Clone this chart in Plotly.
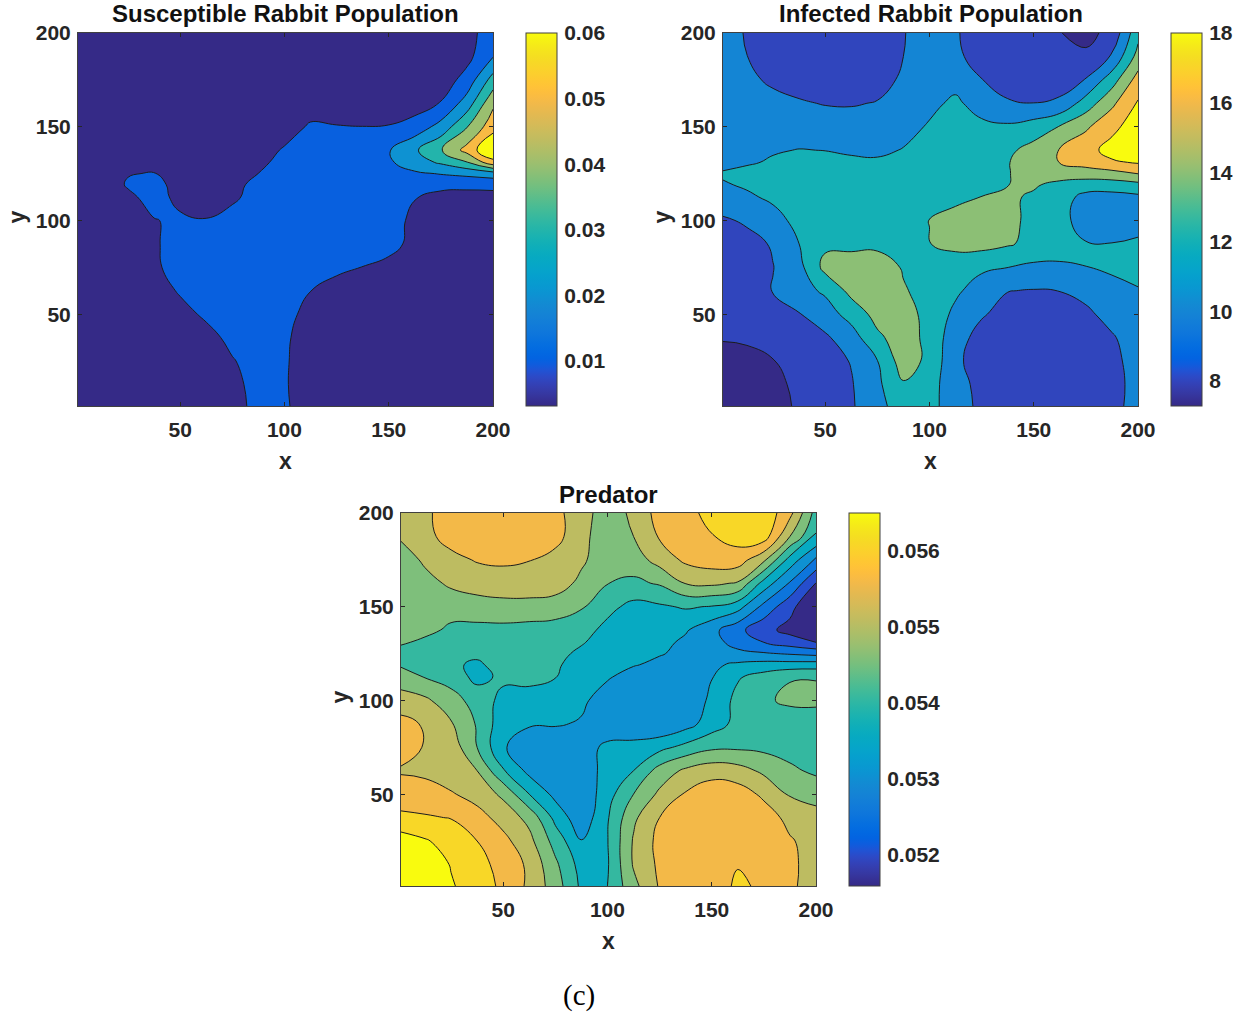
import plotly.graph_objects as go

W, H = 1251, 1014
X = [1, 12.5, 25, 37.5, 50, 62.5, 75, 87.5, 100, 112.5, 125, 137.5, 150, 162.5, 175, 187.5, 200]
Y = [200, 187.5, 175, 162.5, 150, 137.5, 131, 125, 119, 112.5, 100, 87.5, 75, 62.5, 50, 37.5, 25, 12.5, 1]

# values x 1e-3, rows from y=200 downward
SUSCEPTIBLE = [
[4,4,4,4,4,4,4,4,4,4,4,4,4,4,4,8,13],
[4,4,4,4,4,4,4,4,4,4,4,4,4,4,4,7,19.5],
[4,4,4,4,4,4,4,4,4,4,4,4,4,4,4.5,13.7,34],
[4,4,4,4,4,4,4,4,4,4,4,4,4,5.5,10.5,24.5,48],
[4,4,4,4,4,4,4,4,4.5,11.5,10.5,10.1,10.5,14,23.5,39.5,56],
[4,4,4,4,4,4,4,5,11.2,14,15,15.5,19.3,28.5,39.2,53.5,70.5],
[4,4,4,4,4,4,4,8.5,12,15,16,16.5,18.5,25.5,31.5,39.5,56.5],
[4,4,9.5,10.5,5,5,5,10.05,13.5,16.5,17.5,18,18.5,18.5,20.5,22.5,25.5],
[4,4,11,13.5,6,5,7.5,12.5,15,17,18,18,18,17.2,13.5,12.5,12.2],
[4,4,8,13.5,7.5,5,8.8,12.5,15,16.5,17.5,17.5,16.5,10.5,6.5,6.5,7.5],
[4,4,4.5,9.6,11.5,10.5,12.5,14.5,16,17,17.5,17,14.5,7.5,5,4.5,4.5],
[4,4,5,8.8,14,16,17,18,18,18,17.5,16.5,13.5,7,5,4.5,4.5],
[4,4,5,8.5,13.5,16,17,17,16.5,15.5,12,9.8,7,5,4.5,4.5,4.5],
[4,4,4.5,6.5,10.8,14.5,15.5,15.5,14,10.1,6.5,5.5,4.5,4.5,4.5,4.5,4.5],
[4,4,4,4.5,7.5,11.3,13.5,14,12.8,7.2,5,4.5,4.5,4.5,4.5,4.5,4.5],
[4,4,4,4,5,7.5,12,13.5,11.5,5.5,4.5,4.5,4.5,4.5,4.5,4.5,4.5],
[4,4,4,4,4.5,5.5,9.5,13,11,5.5,4.5,4.5,4.5,4.5,4.5,4.5,4.5],
[4,4,4,4,4.5,5,8,12.5,10.8,5.5,4.5,4.5,4.5,4.5,4.5,4.5,4.5],
[4,4,4,4,4.5,5,7.5,12,11.2,5.5,4.5,4.5,4.5,4.5,4.5,4.5,4.5],
]

INFECTED = [
[11,9.8,8.9,8.6,8.5,8.6,9,9.9,11,10.2,9,8.5,8.4,8.05,7.5,8.5,13.4],
[11.2,10.02,8.9,8.6,8.5,8.6,8.9,10,11.2,10.4,9.2,8.6,8.4,8.3,8.3,10.2,14.7],
[11.3,10.5,9.6,9.2,9,9,9.3,10.3,11.5,11.3,10.05,9.2,8.9,9,10.1,13.1,16.8],
[11.3,11,10.7,10.2,9.9,9.85,10.1,10.6,11.5,12.4,11.07,10.2,10.02,10.4,12.9,15.6,18.2],
[11.4,11.3,11.2,11.1,11,10.9,10.9,11.3,12.2,13,12.5,12.3,12.9,14.1,15.7,17.4,19.2],
[11.6,11.7,11.85,12.05,11.97,11.7,11.6,12.1,12.9,13.2,13.2,13.6,14.7,16.1,17.2,18.8,20],
[11.4,11.8,12.2,12.5,12.5,12.4,12.3,12.7,13.1,13.4,13.5,13.9,15,16.05,16.8,17.7,18.2],
[12.2,12.5,12.8,13,13,12.9,12.9,13.1,13.3,13.5,13.7,13.95,14.4,14.9,15,15.3,16.05],
[11.85,12.2,12.6,12.9,13,13,13,13.1,13.3,13.5,13.7,13.98,14.2,13.5,13,13,13.4],
[11.4,11.75,12.3,12.7,12.9,13,13,13.1,13.3,13.6,14.02,14.3,13.75,12.9,11.4,11.3,11.6],
[9.7,10.3,11.4,12.5,13,13.3,13.4,13.6,14.02,14.6,14.9,14.5,13.5,12.6,11.2,10.9,11],
[8.9,9.3,10.2,12,13.6,13.5,13.6,13.7,13.95,14.7,14.7,14.2,13.5,12.9,12.1,12.05,12.4],
[8.6,9,9.95,11.4,14.6,15,14.9,13.85,13,12.6,12.3,12.02,11.6,11.7,11.99,12.4,13],
[8.4,8.8,10.1,11.3,12.3,14.6,15,14.15,13.4,12.3,11.2,10.05,9.9,10.02,10.6,11.2,11.8],
[8.3,8.5,9,9.9,11.1,12.75,14.7,15,13.2,11.6,10.2,9.3,9,9,9.6,10.7,11.3],
[8.1,8.2,8.5,9.1,9.7,11.1,13.6,15,13.4,10.8,9.3,8.7,8.5,8.5,8.7,9.8,11],
[7.5,7.6,7.95,8.6,9.2,10.1,11.95,15,13.5,10.4,9.1,8.6,8.4,8.4,8.6,9.4,10.9],
[7.3,7.4,7.65,8.3,9,9.85,11.6,13.8,12.7,10.9,9.3,8.7,8.5,8.5,8.6,9.3,10.7],
[7.2,7.3,7.5,8.2,8.9,9.75,11.5,12.8,12.6,11,9.5,8.8,8.6,8.6,8.7,9.5,10.6],
]

# values x 1e-3
PREDATOR = [
[55.25,55.42,55.7,55.85,55.9,55.85,55.65,55.2,54.75,55.1,55.7,55.9,56.1,56.25,56.35,55.65,54.3],
[55.08,55.35,55.7,55.85,55.95,55.9,55.7,55.1,54.8,55,55.55,55.8,55.98,56.2,56.25,55,53.95],
[54.7,55.1,55.35,55.54,55.59,55.52,55.3,55.07,54.75,54.75,55.2,55.6,55.75,55.75,55.1,53.8,52.9],
[54.6,54.8,55.1,55.2,55.25,55.25,55.2,54.9,54.51,54.4,54.55,55.02,55.1,54.95,53.8,52.95,51.98],
[54.55,54.6,54.65,54.8,54.85,54.85,54.8,54.55,54.15,53.85,53.93,54.05,53.97,53.7,52.85,52.15,51.5],
[54.7,54.6,54.43,54.35,54.35,54.3,54.25,54.2,53.85,53.8,53.75,53.55,53.15,52.65,52.15,51.85,51.5],
[54.55,54.42,54.35,54.3,54.3,54.25,54.2,54.03,53.85,53.75,53.65,53.4,53.15,52.85,52.5,52.25,52],
[54.35,54.3,54.25,54.12,54.2,54.15,54.1,53.93,53.75,53.65,53.53,53.4,53.25,53.1,53.05,52.95,52.85],
[54.45,54.3,54.1,53.9,54.25,54.15,54.05,53.85,53.7,53.53,53.4,53.35,53.4,53.6,53.7,53.72,53.75],
[54.7,54.48,54.3,53.85,54.1,54.1,54.01,53.75,53.55,53.3,53.2,53.2,53.48,53.95,54.2,54.47,54.48],
[55.25,55.1,54.7,54.3,53.85,53.85,53.85,53.6,53.25,53.1,53.05,53.15,53.6,54.15,54.42,54.6,54.6],
[55.65,55.45,55.05,54.45,53.7,53.55,53.55,53.45,53.2,53.05,53.05,53.3,53.75,54.15,54.3,54.2,54.25],
[55.7,55.47,55.3,54.5,53.55,53.2,53.1,53.3,53.6,53.7,53.85,54.15,54.4,54.42,54.38,54.3,54.3],
[55.45,55.4,55.2,55,54.05,53.35,53.05,53.1,53.75,54,54.7,55.1,55.3,55.2,54.9,54.6,54.4],
[55.75,55.7,55.55,55.3,54.9,54,53.35,53.1,53.8,54.5,55.1,55.55,55.8,55.75,55.4,54.95,54.85],
[56.1,56.05,55.98,55.7,55.3,54.85,53.85,53.15,53.95,54.9,55.5,55.8,55.9,55.9,55.75,55.35,55.15],
[56.75,56.55,56.3,56,55.65,55.15,54.3,53.52,53.98,55.05,55.65,55.9,55.95,55.95,55.85,55.55,55.3],
[57,56.85,56.47,56.15,55.85,55.4,54.6,53.8,53.95,55.05,55.6,55.85,55.95,55.97,55.85,55.6,55.3],
[57.1,56.95,56.55,56.25,55.9,55.4,54.75,53.9,54,54.85,55.55,55.8,55.7,56.1,55.9,55.6,55.25],
]

TICKS = [50, 100, 150, 200]
TITLES = ["Susceptible Rabbit Population", "Infected Rabbit Population", "Predator"]
CB_TICKS = [[0.01, 0.02, 0.03, 0.04, 0.05, 0.06], [8, 10, 12, 14, 16, 18], [0.052, 0.053, 0.054, 0.055, 0.056]]
CB_TEXT = [["0.01", "0.02", "0.03", "0.04", "0.05", "0.06"], ["8", "10", "12", "14", "16", "18"],
           ["0.052", "0.053", "0.054", "0.055", "0.056"]]

PARULA = [
(0.2081,0.1663,0.5292),(0.2116,0.1898,0.5777),(0.2123,0.2138,0.6270),(0.2081,0.2386,0.6771),
(0.1959,0.2645,0.7279),(0.1707,0.2919,0.7792),(0.1253,0.3242,0.8303),(0.0591,0.3598,0.8683),
(0.0117,0.3875,0.8820),(0.0060,0.4086,0.8828),(0.0165,0.4266,0.8786),(0.0329,0.4430,0.8720),
(0.0498,0.4586,0.8641),(0.0629,0.4737,0.8554),(0.0723,0.4887,0.8467),(0.0779,0.5040,0.8384),
(0.0793,0.5200,0.8312),(0.0749,0.5375,0.8263),(0.0641,0.5570,0.8240),(0.0488,0.5772,0.8228),
(0.0343,0.5966,0.8199),(0.0265,0.6137,0.8135),(0.0239,0.6287,0.8038),(0.0231,0.6418,0.7913),
(0.0228,0.6535,0.7768),(0.0267,0.6642,0.7607),(0.0384,0.6743,0.7436),(0.0590,0.6838,0.7254),
(0.0843,0.6928,0.7062),(0.1133,0.7015,0.6859),(0.1453,0.7098,0.6646),(0.1801,0.7177,0.6424),
(0.2178,0.7250,0.6193),(0.2586,0.7317,0.5954),(0.3022,0.7376,0.5712),(0.3482,0.7424,0.5473),
(0.3953,0.7459,0.5244),(0.4420,0.7481,0.5033),(0.4871,0.7491,0.4840),(0.5300,0.7491,0.4661),
(0.5709,0.7485,0.4494),(0.6099,0.7473,0.4337),(0.6473,0.7456,0.4188),(0.6834,0.7435,0.4044),
(0.7184,0.7411,0.3905),(0.7525,0.7384,0.3768),(0.7858,0.7356,0.3633),(0.8185,0.7327,0.3498),
(0.8507,0.7299,0.3360),(0.8824,0.7274,0.3217),(0.9139,0.7258,0.3063),(0.9450,0.7261,0.2886),
(0.9739,0.7314,0.2666),(0.9938,0.7455,0.2403),(0.9990,0.7653,0.2164),(0.9955,0.7861,0.1967),
(0.9880,0.8066,0.1794),(0.9789,0.8271,0.1633),(0.9697,0.8481,0.1475),(0.9626,0.8705,0.1309),
(0.9589,0.8949,0.1132),(0.9598,0.9218,0.0948),(0.9661,0.9514,0.0755),(0.9763,0.9831,0.0538)]

def css(c):
    return "rgb(%d,%d,%d)" % tuple(round(v * 255) for v in c)

def sample(t):
    t = max(0.0, min(1.0, t)) * (len(PARULA) - 1)
    i = min(int(t), len(PARULA) - 2)
    f = t - i
    return css(tuple(a + (b - a) * f for a, b in zip(PARULA[i], PARULA[i + 1])))

PARULA_SCALE = [[i / (len(PARULA) - 1), css(c)] for i, c in enumerate(PARULA)]
TEXT = "#262626"
BOLD = dict(family="Liberation Sans", size=21, color=TEXT, weight=700)

# pixel rectangles
PANELS = [
    dict(z=SUSCEPTIBLE, k=1e-3, x0=78, x1=493, y0=33, y1=406, cb=526, cmin=0.00315, cmax=0.06, bmax=0.06,
         start=0.01, end=0.06, size=0.01),
    dict(z=INFECTED, k=1, x0=723, x1=1138, y0=33, y1=406, cb=1171, cmin=7.28, cmax=18, bmax=18,
         start=8, end=18, size=2),
    dict(z=PREDATOR, k=1e-3, x0=401, x1=816, y0=513, y1=886, cb=849, cmin=0.05158, cmax=0.0565, bmax=0.0564,
         start=0.052, end=0.0565, size=0.0005),
]

def px(x): return x / W
def py(y): return 1 - y / H

fig = go.Figure()
ann = []
layout = {}
for i, p in enumerate(PANELS):
    n = "" if i == 0 else str(i + 1)
    xa, ya = "x" + n, "y" + n
    levels = [p["start"] + j * p["size"] for j in range(round((p["end"] - p["start"]) / p["size"]) + 1)]
    bands = [p["cmin"]] + levels
    colors = [sample((b - p["cmin"]) / (p["bmax"] - p["cmin"])) for b in bands]
    scale = [[j / (len(colors) - 1), c] for j, c in enumerate(colors)]
    fig.add_trace(go.Contour(
        x=X, y=Y[::-1], z=[[v * p["k"] for v in r] for r in p["z"][::-1]],
        xaxis=xa, yaxis=ya, autocontour=False,
        contours=dict(start=p["start"], end=p["end"], size=p["size"], coloring="fill", showlines=True),
        line=dict(color="#1c1c1c", width=1, smoothing=1.3),
        colorscale=scale, showscale=False, hoverinfo="skip"))
    fig.add_trace(go.Scatter(
        x=[X[0]], y=[Y[-1]], xaxis=xa, yaxis=ya, mode="markers", showlegend=False, hoverinfo="skip",
        marker=dict(size=1, opacity=0, color=[p["cmin"]], colorscale=PARULA_SCALE, cmin=p["cmin"], cmax=p["cmax"],
                    showscale=True,
                    colorbar=dict(thicknessmode="pixels", thickness=31, lenmode="fraction",
                                  len=(p["y1"] - p["y0"]) / H, x=px(p["cb"]), xanchor="left",
                                  y=py(p["y1"]), yanchor="bottom", xpad=0, ypad=0,
                                  tickvals=CB_TICKS[i], ticktext=CB_TEXT[i], ticks="outside", ticklen=3,
                                  tickcolor="rgba(0,0,0,0)", tickfont=BOLD, outlinecolor="#404040", outlinewidth=1,
                                  bgcolor="rgba(0,0,0,0)"))))
    axis = dict(tickvals=TICKS, ticktext=[str(t) for t in TICKS], ticks="inside", ticklen=4, tickcolor=TEXT,
                tickwidth=1, showline=True, linecolor="#404040", linewidth=1, mirror="ticks", showgrid=False,
                zeroline=False, range=[1, 200], tickfont=BOLD)
    layout["xaxis" + n] = dict(axis, domain=[px(p["x0"]), px(p["x1"])], anchor=ya, ticklabelstandoff=5)
    layout["yaxis" + n] = dict(axis, domain=[py(p["y1"]), py(p["y0"])], anchor=xa, ticklabelstandoff=2)
    cx = (p["x0"] + p["x1"]) / 2
    ann.append(dict(text=TITLES[i], x=px(cx), y=py(p["y0"] - 19), font=dict(BOLD, size=24, color="#111111")))
    ann.append(dict(text="x", x=px(cx), y=py(p["y1"] + 55), font=dict(BOLD, size=23)))
    ann.append(dict(text="y", x=px(p["x0"] - 62), y=py((p["y0"] + p["y1"]) / 2 - 2), textangle=-90,
                    font=dict(BOLD, size=23)))

ann.append(dict(text="(c)", x=px(579), y=py(995), font=dict(family="Liberation Serif", size=29, color="#000000")))
for a in ann:
    a.update(xref="paper", yref="paper", showarrow=False, xanchor="center", yanchor="middle")

fig.update_layout(width=W, height=H, margin=dict(l=0, r=0, t=0, b=0, autoexpand=False), paper_bgcolor="white",
                  plot_bgcolor="white", showlegend=False, annotations=ann, **layout)
fig.write_html("out.html", config={"displayModeBar": False},
               post_script="document.body.style.margin='0';document.documentElement.style.overflow='hidden';")
